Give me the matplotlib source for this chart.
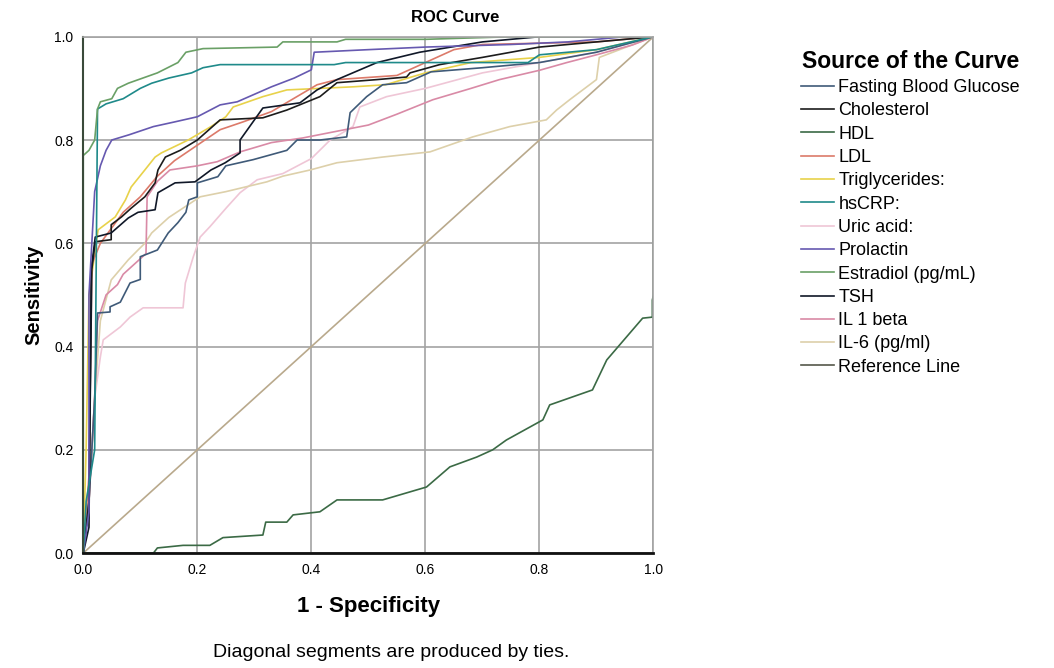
import matplotlib
matplotlib.use('Agg')
import matplotlib.pyplot as plt

# ------------------------------------------------------------------
# ROC curve points (1 - specificity, sensitivity)
fbg_x = [0, 0.01, 0.02, 0.025, 0.047, 0.047, 0.065, 0.082, 0.10, 0.10, 0.13, 0.149, 0.166, 0.18, 0.185, 0.20, 0.20,
         0.236, 0.25, 0.298, 0.357, 0.375, 0.415, 0.462, 0.468, 0.497, 0.525, 0.567, 0.61, 0.70, 0.80, 0.90, 1.0]
fbg_y = [0, 0.10, 0.30, 0.465, 0.467, 0.477, 0.486, 0.523, 0.53, 0.574, 0.587, 0.62, 0.64, 0.66, 0.684, 0.69, 0.717,
         0.729, 0.75, 0.762, 0.78, 0.80, 0.80, 0.806, 0.853, 0.884, 0.907, 0.911, 0.932, 0.94, 0.95, 0.97, 1.0]

chol_x = [0, 0.01, 0.015, 0.021, 0.049, 0.049, 0.067, 0.084, 0.108, 0.126, 0.131, 0.144, 0.17, 0.20, 0.24, 0.315,
          0.357, 0.415, 0.445, 0.515, 0.567, 0.573, 0.625, 0.70, 0.80, 0.90, 1.0]
chol_y = [0, 0.10, 0.55, 0.603, 0.607, 0.636, 0.651, 0.668, 0.69, 0.717, 0.742, 0.767, 0.78, 0.80, 0.839, 0.843,
          0.858, 0.884, 0.911, 0.917, 0.922, 0.93, 0.946, 0.96, 0.98, 0.99, 1.0]

hdl_x = [0, 0.123, 0.13, 0.175, 0.222, 0.245, 0.315, 0.32, 0.357, 0.368, 0.415, 0.445, 0.525, 0.602, 0.643, 0.69,
         0.718, 0.742, 0.806, 0.818, 0.893, 0.918, 0.953, 0.981, 0.998, 0.998, 1.0, 1.0]
hdl_y = [0, 0, 0.01, 0.015, 0.015, 0.03, 0.035, 0.06, 0.06, 0.074, 0.08, 0.103, 0.103, 0.128, 0.167, 0.186,
         0.20, 0.219, 0.258, 0.287, 0.316, 0.374, 0.419, 0.455, 0.457, 0.49, 0.50, 1.0]

ldl_x = [0, 0.01, 0.015, 0.03, 0.05, 0.07, 0.10, 0.13, 0.16, 0.20, 0.24, 0.28, 0.33, 0.41, 0.445, 0.55, 0.60,
         0.65, 0.70, 0.90, 1.0]
ldl_y = [0, 0.15, 0.56, 0.60, 0.63, 0.66, 0.69, 0.73, 0.76, 0.79, 0.82, 0.835, 0.855, 0.907, 0.917, 0.925, 0.95,
         0.975, 0.985, 0.99, 1.0]

trig_x = [0, 0.005, 0.01, 0.026, 0.056, 0.074, 0.084, 0.108, 0.126, 0.137, 0.184, 0.224, 0.25, 0.263, 0.315,
          0.357, 0.415, 0.473, 0.53, 0.60, 0.68, 0.80, 0.90, 1.0]
trig_y = [0, 0.20, 0.50, 0.626, 0.651, 0.684, 0.709, 0.742, 0.767, 0.775, 0.80, 0.826, 0.845, 0.864, 0.884,
          0.897, 0.90, 0.903, 0.907, 0.93, 0.95, 0.96, 0.975, 1.0]

crp_x = [0, 0.005, 0.02, 0.025, 0.04, 0.07, 0.10, 0.12, 0.15, 0.19, 0.21, 0.24, 0.44, 0.46, 0.78, 0.80, 0.90, 1.0]
crp_y = [0, 0.10, 0.20, 0.86, 0.87, 0.88, 0.90, 0.91, 0.92, 0.93, 0.94, 0.946, 0.946, 0.95, 0.95, 0.965, 0.975, 1.0]

uric_x = [0, 0.01, 0.02, 0.03, 0.035, 0.065, 0.082, 0.105, 0.175, 0.179, 0.193, 0.205, 0.222, 0.252, 0.275,
          0.305, 0.35, 0.40, 0.433, 0.473, 0.485, 0.532, 0.60, 0.70, 0.80, 0.90, 1.0]
uric_y = [0, 0.10, 0.30, 0.38, 0.413, 0.438, 0.457, 0.475, 0.475, 0.523, 0.574, 0.612, 0.632, 0.67, 0.698,
          0.723, 0.735, 0.764, 0.80, 0.826, 0.864, 0.884, 0.90, 0.93, 0.95, 0.97, 1.0]

prl_x = [0, 0.01, 0.01, 0.015, 0.02, 0.03, 0.04, 0.05, 0.08, 0.123, 0.16, 0.20, 0.24, 0.27, 0.33, 0.37, 0.40,
         0.405, 0.50, 0.60, 0.75, 0.85, 0.95, 1.0]
prl_y = [0, 0.08, 0.50, 0.60, 0.70, 0.75, 0.78, 0.80, 0.81, 0.826, 0.835, 0.845, 0.868, 0.874, 0.903, 0.92, 0.936,
         0.97, 0.975, 0.98, 0.985, 0.99, 1.0, 1.0]

estr_x = [0, 0, 0.01, 0.02, 0.025, 0.03, 0.05, 0.06, 0.079, 0.13, 0.166, 0.18, 0.21, 0.34, 0.35, 0.445, 0.46,
          0.60, 0.75, 1.0]
estr_y = [0, 0.77, 0.78, 0.80, 0.86, 0.874, 0.88, 0.90, 0.91, 0.93, 0.95, 0.97, 0.977, 0.98, 0.99, 0.99, 0.995,
          0.995, 1.0, 1.0]

tsh_x = [0, 0.01, 0.014, 0.021, 0.049, 0.079, 0.096, 0.126, 0.131, 0.161, 0.196, 0.224, 0.249, 0.275, 0.275,
         0.315, 0.38, 0.41, 0.445, 0.515, 0.59, 0.70, 0.80, 1.0]
tsh_y = [0, 0.05, 0.55, 0.612, 0.62, 0.649, 0.66, 0.665, 0.698, 0.717, 0.719, 0.742, 0.756, 0.775, 0.80,
         0.862, 0.872, 0.897, 0.917, 0.95, 0.97, 0.99, 1.0, 1.0]

il1b_x = [0, 0.01, 0.02, 0.025, 0.04, 0.06, 0.07, 0.09, 0.11, 0.112, 0.13, 0.152, 0.20, 0.235, 0.275, 0.33,
          0.385, 0.50, 0.55, 0.613, 0.68, 0.73, 0.80, 0.848, 0.90, 0.963, 1.0]
il1b_y = [0, 0.10, 0.30, 0.45, 0.50, 0.52, 0.54, 0.56, 0.58, 0.69, 0.72, 0.742, 0.75, 0.758, 0.777, 0.795,
          0.804, 0.829, 0.85, 0.878, 0.90, 0.917, 0.935, 0.95, 0.965, 0.984, 1.0]

il6_x = [0, 0.01, 0.02, 0.03, 0.049, 0.079, 0.096, 0.108, 0.12, 0.15, 0.205, 0.25, 0.322, 0.35, 0.398, 0.445,
         0.525, 0.608, 0.683, 0.748, 0.812, 0.83, 0.853, 0.90, 0.905, 1.0]
il6_y = [0, 0.10, 0.30, 0.45, 0.529, 0.568, 0.587, 0.60, 0.62, 0.65, 0.69, 0.70, 0.719, 0.73, 0.742, 0.756,
         0.767, 0.777, 0.806, 0.826, 0.839, 0.858, 0.878, 0.917, 0.96, 1.0]

ref_x = [0, 1]
ref_y = [0, 1]

curve_names = ["Fasting Blood Glucose", "Cholesterol", "HDL", "LDL", "Triglycerides:", "hsCRP:",
               "Uric acid:", "Prolactin", "Estradiol (pg/mL)", "TSH", "IL 1 beta", "IL-6 (pg/ml)",
               "Reference Line"]
curve_colors = ["#3f5a78", "#1c1c1c", "#3b6a45", "#dc7a6a", "#e8d24a", "#1f8a8a",
                "#efc6d6", "#6659b0", "#6aa066", "#101828", "#d98aa6", "#ddd0aa",
                "#b9a98c"]
ticks = [0.0, 0.2, 0.4, 0.6, 0.8, 1.0]
tick_labels = ["0.0", "0.2", "0.4", "0.6", "0.8", "1.0"]

plt.rcParams['font.family'] = ['Liberation Sans', 'DejaVu Sans']

# ------------------------------------------------------------------
fig = plt.figure(figsize=(10.54, 6.68), dpi=100)
ax = fig.add_axes([0.079, 0.172, 0.541, 0.773])

ax.grid(True, color="#a3a3a3", linewidth=1.2)
ax.set_axisbelow(True)

series = [(fbg_x, fbg_y), (chol_x, chol_y), (hdl_x, hdl_y), (ldl_x, ldl_y), (trig_x, trig_y),
          (crp_x, crp_y), (uric_x, uric_y), (prl_x, prl_y), (estr_x, estr_y), (tsh_x, tsh_y),
          (il1b_x, il1b_y), (il6_x, il6_y), (ref_x, ref_y)]
# light ones first so the dark ones sit on top
order = [12, 6, 11, 10, 4, 3, 0, 1, 9, 7, 5, 8, 2]
lines = {}
for i in order:
    xs, ys = series[i]
    ln, = ax.plot(xs, ys, color=curve_colors[i], linewidth=1.2, label=curve_names[i])
    lines[i] = ln

ax.set_xlim(0, 1)
ax.set_ylim(0, 1)
ax.set_xticks(ticks)
ax.set_yticks(ticks)
ax.set_xticklabels(tick_labels)
ax.set_yticklabels(tick_labels)
ax.tick_params(length=0, labelsize=10, pad=7)

for s in ["top", "right"]:
    ax.spines[s].set_color("#a3a3a3")
    ax.spines[s].set_linewidth(1.2)
ax.spines["left"].set_color("#3a4a3a")
ax.spines["left"].set_linewidth(1.5)
ax.spines["bottom"].set_color("#111111")
ax.spines["bottom"].set_linewidth(2)

fig.text(0.432, 0.974, "ROC Curve", fontsize=12, fontweight="bold", ha="center", va="center")
ax.set_xlabel("1 - Specificity", fontsize=16, fontweight="bold", labelpad=14)
ax.set_ylabel("Sensitivity", fontsize=14.5, fontweight="bold", labelpad=8)

fig.text(0.202, 0.017, "Diagonal segments are produced by ties.", fontsize=14)

leg = fig.legend([lines[i] for i in range(13)], curve_names, loc="upper left",
                 bbox_to_anchor=(0.745, 0.95), frameon=False, fontsize=13,
                 handlelength=1.8, handletextpad=0.25, labelspacing=0.35,
                 title="Source of the Curve",
                 title_fontproperties={"size": 16.5, "weight": "bold"})
leg.get_lines()[-1].set_color("#55584a")

plt.savefig("out.png", dpi=100)
